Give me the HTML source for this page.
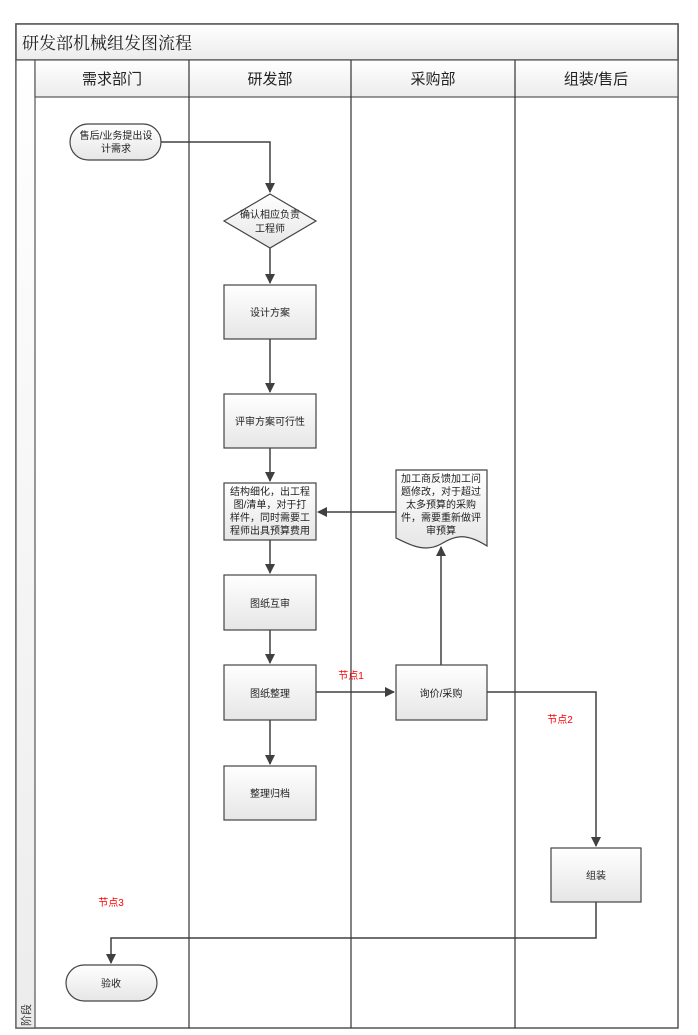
<!DOCTYPE html>
<html><head><meta charset="utf-8"><style>
html,body{margin:0;padding:0;background:#fff;}
svg{display:block;}
text{font-family:"Liberation Sans","Noto Sans CJK SC",sans-serif;}
.serif{font-family:"Liberation Serif","Noto Serif CJK SC",serif;}
</style></head><body>
<svg width="698" height="1035" viewBox="0 0 698 1035" xmlns="http://www.w3.org/2000/svg">
<defs>
<linearGradient id="g" x1="0" y1="0" x2="0" y2="1"><stop offset="0" stop-color="#ffffff"/><stop offset="1" stop-color="#e6e6e6"/></linearGradient>
<linearGradient id="h" x1="0" y1="0" x2="0" y2="1"><stop offset="0" stop-color="#ffffff"/><stop offset="1" stop-color="#ececec"/></linearGradient>
<marker id="a" markerWidth="10" markerHeight="10" refX="9" refY="5" orient="auto" markerUnits="userSpaceOnUse"><path d="M0,0 L10,5 L0,10 z" fill="#404040"/></marker>
</defs>
<rect x="16" y="24" width="662" height="1004" fill="#fff" stroke="#555" stroke-width="1.5"/>
<rect x="16" y="24" width="662" height="36" fill="url(#h)" stroke="#555" stroke-width="1.5"/>
<text class="serif" x="22" y="49" font-size="17" fill="#222">研发部机械组发图流程</text>
<rect x="16" y="60" width="19" height="968" fill="url(#h)" stroke="#555" stroke-width="1.2"/>
<rect x="35" y="60" width="643" height="37" fill="url(#h)" stroke="#555" stroke-width="1.2"/>
<g stroke="#333" stroke-width="1.2">
<line x1="189" y1="60" x2="189" y2="1028"/>
<line x1="351" y1="60" x2="351" y2="1028"/>
<line x1="515" y1="60" x2="515" y2="1028"/>
</g>
<g class="serif" font-size="15" fill="#222" text-anchor="middle">
<text x="112" y="84">需求部门</text>
<text x="270" y="84">研发部</text>
<text x="433" y="84">采购部</text>
<text x="596" y="84">组装/售后</text>
</g>
<text transform="translate(30,1026) rotate(-90)" font-size="11" fill="#333">阶段</text>
<g stroke="#404040" stroke-width="1.5" fill="none">
<polyline points="161,142 270,142 270,192" marker-end="url(#a)"/>
<line x1="270" y1="248" x2="270" y2="283" marker-end="url(#a)"/>
<line x1="270" y1="339" x2="270" y2="392" marker-end="url(#a)"/>
<line x1="270" y1="448" x2="270" y2="481" marker-end="url(#a)"/>
<line x1="270" y1="540" x2="270" y2="573" marker-end="url(#a)"/>
<line x1="270" y1="630" x2="270" y2="663" marker-end="url(#a)"/>
<line x1="270" y1="720" x2="270" y2="764" marker-end="url(#a)"/>
<line x1="396" y1="512" x2="318" y2="512" marker-end="url(#a)"/>
<line x1="316" y1="692" x2="394" y2="692" marker-end="url(#a)"/>
<line x1="441" y1="665" x2="441" y2="547" marker-end="url(#a)"/>
<polyline points="487,692 596,692 596,846" marker-end="url(#a)"/>
<polyline points="596,902 596,938 111,938 111,963" marker-end="url(#a)"/>
</g>
<g stroke="#444" stroke-width="1.2" fill="url(#g)">
<rect x="70" y="124" width="91" height="36" rx="18"/>
<polygon points="270,194 316,221 270,248 224,221"/>
<rect x="224" y="285" width="92" height="54"/>
<rect x="224" y="394" width="92" height="54"/>
<rect x="224" y="483" width="92" height="57"/>
<rect x="224" y="575" width="92" height="55"/>
<rect x="224" y="665" width="92" height="55"/>
<rect x="224" y="766" width="92" height="54"/>
<path d="M396,470 L487,470 L487,546 C465,532 455,536 441,544 C425,553 410,545 396,538 Z"/>
<rect x="396" y="665" width="91" height="55"/>
<rect x="551" y="848" width="90" height="54"/>
<rect x="66" y="965" width="91" height="36" rx="18"/>
</g>
<g font-size="10" fill="#222" text-anchor="middle">
<text x="116" y="139">售后/业务提出设</text>
<text x="116" y="152">计需求</text>
<text x="270" y="218">确认相应负责</text>
<text x="270" y="232">工程师</text>
<text x="270" y="316">设计方案</text>
<text x="270" y="425">评审方案可行性</text>
<text x="270" y="495">结构细化，出工程</text>
<text x="270" y="508">图/清单，对于打</text>
<text x="270" y="521">样件，同时需要工</text>
<text x="270" y="534">程师出具预算费用</text>
<text x="270" y="607">图纸互审</text>
<text x="270" y="697">图纸整理</text>
<text x="270" y="797">整理归档</text>
<text x="441" y="482">加工商反馈加工问</text>
<text x="441" y="495">题修改，对于超过</text>
<text x="441" y="508">太多预算的采购</text>
<text x="441" y="521">件，需要重新做评</text>
<text x="441" y="534">审预算</text>
<text x="441" y="697">询价/采购</text>
<text x="596" y="879">组装</text>
<text x="111" y="987">验收</text>
</g>
<g font-size="10" fill="#ff0000" text-anchor="middle">
<text x="351" y="679">节点1</text>
<text x="560" y="723">节点2</text>
<text x="111" y="906">节点3</text>
</g>
</svg>
</body></html>
